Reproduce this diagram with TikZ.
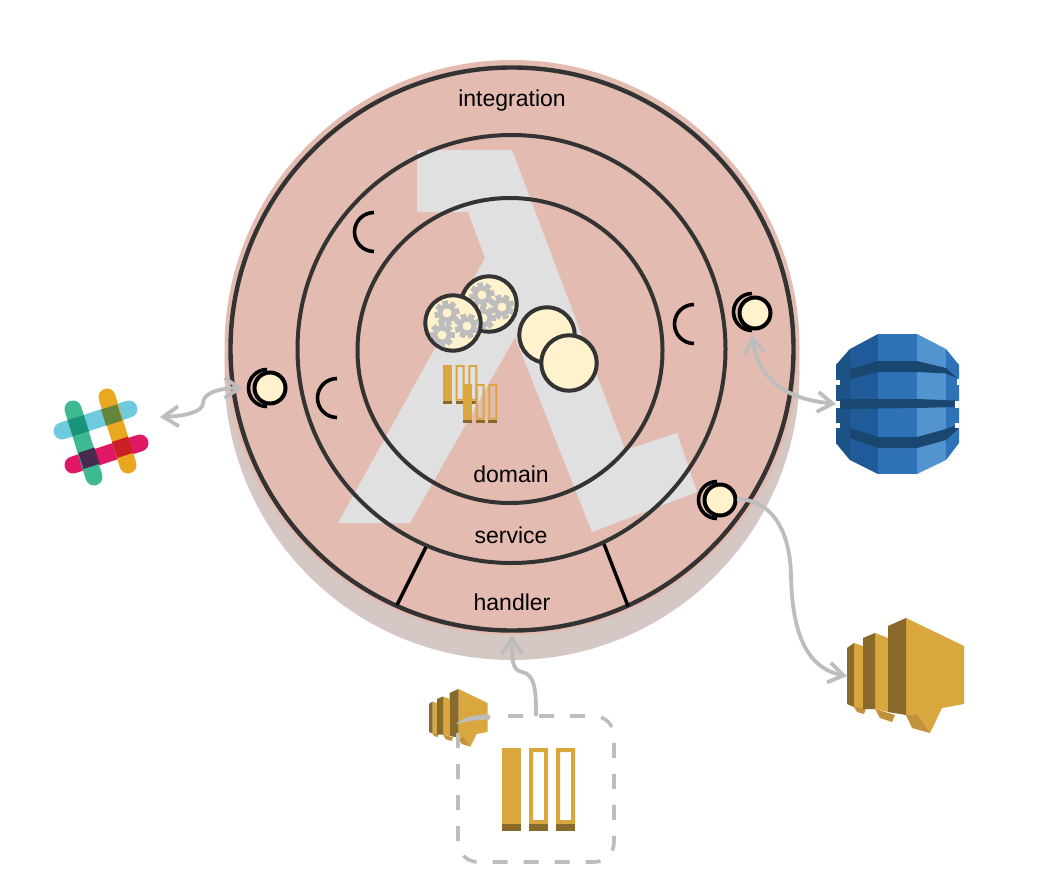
\documentclass[tikz,border=0pt]{standalone}
\usepackage{fontspec}
\setmainfont{Liberation Sans}
\usetikzlibrary{arrows.meta}
\definecolor{pinkdisc}{HTML}{E4BBB1}
\definecolor{shadowc}{HTML}{D5C7C4}
\definecolor{lamgray}{HTML}{E0E0E0}
\definecolor{ringc}{HTML}{333333}
\definecolor{creamc}{HTML}{FFF2CC}
\definecolor{gearc}{HTML}{BDBDBD}
\definecolor{linkc}{HTML}{BDBDBD}
\definecolor{goldf}{HTML}{DAA73E}
\definecolor{goldd}{HTML}{8A6A2B}
\definecolor{goldu}{HTML}{C2923A}
\definecolor{dyA}{HTML}{205B99}
\definecolor{dyB}{HTML}{2E73B8}
\definecolor{dyC}{HTML}{5294CF}
\definecolor{dyD}{HTML}{1A476F}
\definecolor{slCy}{HTML}{6ECADC}
\definecolor{slPk}{HTML}{E01765}
\definecolor{slGr}{HTML}{3EB991}
\definecolor{slYe}{HTML}{E9A820}
\definecolor{slGC}{HTML}{1A937D}
\definecolor{slYC}{HTML}{65863A}
\definecolor{slGP}{HTML}{472A4F}
\definecolor{slYP}{HTML}{CC2027}
\tikzset{
  ring/.style={draw=ringc,line width=4pt},
  lbl/.style={font=\fontsize{23}{26}\selectfont,text=black,inner sep=0pt,anchor=base},
  cell/.style={circle,draw=ringc,line width=4pt,fill=creamc,minimum size=55.5pt,inner sep=0pt},
  portdot/.style={circle,draw=black,line width=4pt,fill=creamc,minimum size=31pt,inner sep=0pt},
  cup/.style={draw=black,line width=3.6pt},
  link/.style={draw=linkc,line width=3.8pt},
  tip/.style={-{Straight Barb[length=15pt,width=20pt]}},
  tips/.style={{Straight Barb[length=15pt,width=20pt]}-{Straight Barb[length=15pt,width=20pt]}},
  slackbar/.style={line width=17pt,line cap=round},
}
\newcommand{\gearat}[4]{%
  \begin{scope}[shift={(#1,#2)},rotate=#4]
    \foreach \a in {0,45,...,135}
      \fill[gearc,rotate=\a] (-#3,-2.9) rectangle (#3,2.9);
    \fill[gearc] (0,0) circle[radius=0.74*#3 pt];
    \fill[creamc] (0,0) circle[radius=0.36*#3 pt];
  \end{scope}}
\newcommand{\cupat}[3]{\draw[cup] (#1,#2) ++(0,-#3) arc[start angle=90,end angle=270,radius=#3pt];}
\newcommand{\barsicon}[3]{%
  \begin{scope}[shift={(#1,#2)},scale=#3]
    \fill[goldf] (0,0) rectangle (19,76);
    \fill[goldd] (0,76) rectangle (19,83);
    \foreach \dx in {27,54}{
      \fill[goldf,even odd rule] (\dx,0) rectangle (\dx+19,76) (\dx+4,4) rectangle (\dx+15,72);
      \fill[goldd] (\dx,76) rectangle (\dx+19,83);
    }
  \end{scope}}
\newcommand{\speaker}{%
  \fill[goldf] (854,643) -- (863,646) -- (863,709) -- (854,707) -- cycle;
  \fill[goldu] (854,707) -- (866,708) -- (864,714) -- (857,712) -- cycle;
  \fill[goldd] (847,648) -- (854,643) -- (854,707) -- (847,704) -- cycle;
  \fill[goldf] (875,633) -- (888,638) -- (888,712) -- (875,709) -- cycle;
  \fill[goldu] (875,709) -- (895,715) -- (892,722) -- (880,718) -- cycle;
  \fill[goldd] (863,638) -- (875,633) -- (875,709) -- (863,709) -- cycle;
  \fill[goldf] (906,618) -- (964,646) -- (964,704) -- (942,708) -- (930,733) -- (917,714) -- (906,715) -- cycle;
  \fill[goldu] (906,715) -- (917,714) -- (930,733) -- (912,728) -- cycle;
  \fill[goldd] (888,626) -- (906,618) -- (906,715) -- (888,712) -- cycle;
}
\newcommand{\slackx}[3]{\fill[#3,shift={(#1,#2)},rotate=18] (-8.5,-8.5) rectangle (8.5,8.5);}
\begin{document}
\begin{tikzpicture}[x=1pt,y=-1pt]
\useasboundingbox (0,0) rectangle (1056,892);
\fill[white] (0,0) rectangle (1056,892);
% discs
\fill[shadowc] (512,372.5) circle[radius=287.5pt];
\fill[pinkdisc] (512,347.5) circle[radius=287.5pt];
% lambda
\fill[lamgray] (417,150) -- (512,150) -- (625,450) -- (677,433) -- (697,492) -- (592,532)
  -- (515,337) -- (410,523) -- (338,523) -- (485,258) -- (468,212) -- (417,212) -- cycle;
% rings
\draw[ring,line width=4.4pt] (512,349) circle[radius=281.5pt];
\draw[ring] (511.5,349) circle[radius=214pt];
\draw[ring] (510,350.5) circle[radius=152.5pt];
% handler separators
\coordinate (hA1) at (426,547); \coordinate (hA2) at (397,605);
\coordinate (hB1) at (604,544); \coordinate (hB2) at (628,606);
\draw[black,line width=3.4pt] (hA1) -- (hA2);
\draw[black,line width=3.4pt] (hB1) -- (hB2);
% labels
\node[lbl] (tInt) at (512,106) {integration};
\node[lbl] (tDom) at (511,482) {domain};
\node[lbl] (tSer) at (511,543) {service};
\node[lbl] (tHan) at (512,610.5) {handler};
% sockets
\cupat{374}{232}{19.5}
\cupat{337}{398}{19.5}
\cupat{694}{324}{19.5}
% domain cells
\node[cell] (c1) at (489,304) {};
\begin{scope}
  \clip (489,304) circle[radius=26pt];
  \gearat{482}{295}{12.5}{10}
  \gearat{502}{307}{12.5}{20}
  \gearat{483}{318}{12.5}{0}
\end{scope}
\node[cell] (c2) at (453,323) {};
\begin{scope}
  \clip (453,323) circle[radius=26pt];
  \gearat{447}{313}{12.5}{10}
  \gearat{467}{326}{12.5}{20}
  \gearat{442}{335}{12.5}{0}
\end{scope}
\node[cell] (c3) at (547,335) {};
\node[cell] (c4) at (569,363) {};
% mini bars
\barsicon{443}{365}{0.47}
\barsicon{463}{384}{0.47}
% slack
\draw[slackbar,color=slCy] (62,431) -- (129,409);
\draw[slackbar,color=slPk] (73,465) -- (140,443);
\draw[slackbar,color=slGr] (73,409) -- (94,477);
\draw[slackbar,color=slYe] (107,397) -- (128,465);
\slackx{78.3}{425.7}{slGC}
\slackx{111.7}{415}{slYC}
\slackx{89}{458.3}{slGP}
\slackx{122.7}{447.3}{slYP}
% dynamodb
\fill[dyA] (878,334) -- (850,349) -- (836,365) -- (836,443) -- (850,460) -- (878,474) -- cycle;
\fill[dyB] (878,334) rectangle (917,474);
\fill[dyC] (917,334) -- (946,349) -- (946,460) -- (917,474) -- cycle;
\fill[dyB] (946,349) -- (959,365) -- (959,443) -- (946,460) -- cycle;
\fill[dyD] (850,369) -- (878,361) -- (917,361) -- (946,368) -- (957,378) -- (946,373.5) -- (917,372) -- (878,372) -- (850,379) -- cycle;
\fill[dyD] (840,399) -- (917,399) -- (955,400.5) -- (955,407) -- (917,408) -- (840,409) -- cycle;
\fill[dyD] (850,428) -- (878,437) -- (917,437) -- (946,429) -- (957,425) -- (959,428) -- (946,440) -- (917,448) -- (878,448) -- (850,438) -- cycle;
\fill[dyD!45!dyA] (836,365) -- (850,349) -- (850,460) -- (836,443) -- cycle;
\fill[dyD] (840,399) rectangle (850,409);
\fill[white] (836,380) rectangle (840,385);
\fill[white] (836,401) rectangle (840,407.5);
\fill[white] (836,423) rectangle (840,428);
\fill[white] (957,378.5) rectangle (959,385);
\fill[white] (955,401) rectangle (959,407.5);
\fill[white] (955,423) rectangle (959,428);
% lambda icons
\speaker
\begin{scope}[shift={(5.5,380)},scale=0.5]
  \speaker
\end{scope}
% big bars and box
\barsicon{502}{748}{1}
\fill[linkc] (490,714.5) .. controls (472,714.5) and (462,718) .. (456,724) .. controls (468,721) and (478,719.5) .. (490,719.5) -- cycle;
\draw[link,line width=3.6pt,dash pattern=on 15pt off 16pt] (458,733) -- (458,842) arc[start angle=180,end angle=270,radius=20pt]
  -- (594,862) arc[start angle=270,end angle=360,radius=20pt] -- (614,736) arc[start angle=0,end angle=90,radius=20pt] -- (495,716);
% ports
\cupat{752}{312}{18.5}
\node[portdot] (pR) at (755,313) {};
\cupat{267}{388}{18.5}
\node[portdot] (pL) at (270,388) {};
\cupat{717}{500}{18.5}
\node[portdot] (pB) at (720,500) {};
% connectors
\coordinate (slackEnd) at (160,417);
\coordinate (pLin) at (243,388);
\coordinate (dynoEnd) at (836,404);
\coordinate (pRin) at (752,335);
\coordinate (lamEnd) at (847,676);
\coordinate (pBout) at (737,499);
\coordinate (boxTop) at (536,716);
\coordinate (handIn) at (512,635);
\draw[link,tips] (slackEnd) .. controls (185,416) and (203,412) .. (203,403) .. controls (203,392) and (222,388) .. (pLin);
\draw[link,tips] (dynoEnd) .. controls (800,400) and (760,390) .. (pRin);
\draw[link,tip] (pBout) .. controls (775,500) and (790,535) .. (791,575) .. controls (792,630) and (805,668) .. (lamEnd);
\draw[link,tip] (boxTop) .. controls (536,695) and (536,674) .. (522,672) .. controls (512,670) and (512,660) .. (handIn);
\end{tikzpicture}
\end{document}
